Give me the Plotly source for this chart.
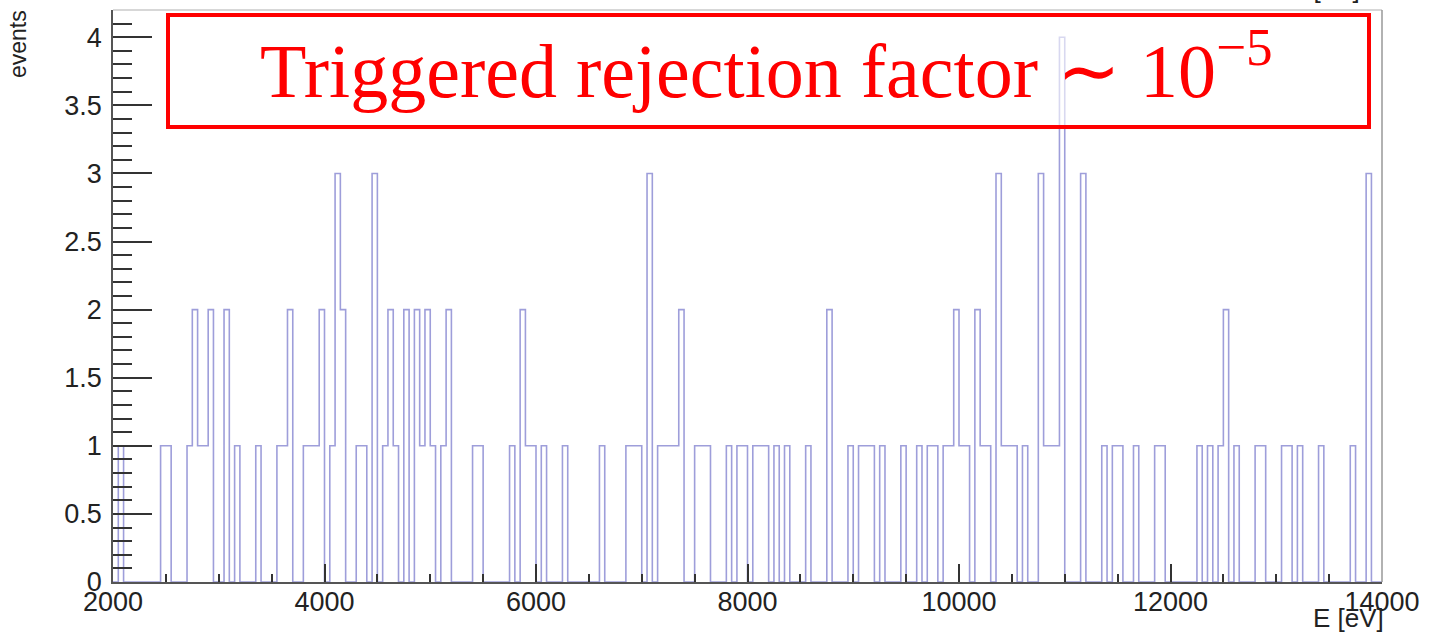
import plotly.graph_objects as go

# Histogram binning: 240 bins of 50 eV from 2000 eV to 14000 eV
E_MIN = 2000
E_MAX = 14000
BIN_WIDTH = 50

# Lower edge (eV) of every non-empty bin and the number of events in it
bin_start_eV = [
    2050, 2450, 2500, 2700, 2750, 2800, 2850, 2900, 3050, 3150,
    3350, 3550, 3600, 3650, 3800, 3850, 3900, 3950, 4050, 4100,
    4150, 4300, 4350, 4450, 4550, 4600, 4650, 4750, 4850, 4900,
    4950, 5000, 5100, 5150, 5400, 5450, 5750, 5850, 5900, 5950,
    6050, 6250, 6600, 6850, 6900, 6950, 7050, 7150, 7200, 7250,
    7300, 7350, 7500, 7550, 7600, 7800, 7900, 7950, 8050, 8100,
    8150, 8250, 8350, 8550, 8750, 8950, 9050, 9100, 9150, 9250,
    9450, 9600, 9700, 9750, 9850, 9900, 9950, 10000, 10050, 10150,
    10200, 10250, 10350, 10400, 10450, 10500, 10600, 10750, 10800, 10850,
    10900, 10950, 11150, 11350, 11450, 11500, 11650, 11850, 11900, 12250,
    12350, 12450, 12500, 12600, 12800, 12850, 13050, 13100, 13200, 13400,
    13700, 13850,
]
events = [
    1, 1, 1, 1, 2, 1, 1, 2, 2, 1,
    1, 1, 1, 2, 1, 1, 1, 2, 1, 3,
    2, 1, 1, 3, 1, 2, 1, 2, 2, 1,
    2, 1, 1, 2, 1, 1, 1, 2, 1, 1,
    1, 1, 1, 1, 1, 1, 3, 1, 1, 1,
    1, 2, 1, 1, 1, 1, 1, 1, 1, 1,
    1, 1, 1, 1, 2, 1, 1, 1, 1, 1,
    1, 1, 1, 1, 1, 1, 2, 1, 1, 2,
    1, 1, 3, 1, 1, 1, 1, 3, 1, 1,
    1, 4, 3, 1, 1, 1, 1, 1, 1, 1,
    1, 1, 2, 1, 1, 1, 1, 1, 1, 1,
    1, 3,
]

x_tick_values = [2000, 4000, 6000, 8000, 10000, 12000, 14000]

# Fill the full bin array and build the ROOT-style outline of the histogram
n_bins = (E_MAX - E_MIN) // BIN_WIDTH
content = [0] * n_bins
for e, c in zip(bin_start_eV, events):
    content[(e - E_MIN) // BIN_WIDTH] = c

xs, ys = [E_MIN], [0]
for i, c in enumerate(content):
    lo = E_MIN + i * BIN_WIDTH
    xs += [lo, lo + BIN_WIDTH]
    ys += [c, c]
xs.append(E_MAX)
ys.append(0)

fig = go.Figure()
fig.add_trace(go.Scatter(
    x=xs, y=ys, mode="lines",
    line=dict(color="rgb(158,158,218)", width=1.6),
    hoverinfo="skip",
))

W, H = 1429, 632
L, R, T, B = 113, 47, 10, 50
pw, ph = W - L - R, H - T - B


def px(xp):
    return (xp - L) / pw


def py(yp):
    return (H - B - yp) / ph


label_font = dict(family="Liberation Sans, Arial, sans-serif", size=27, color="#222")
tick_col = "#333"

fig.update_layout(
    width=W, height=H,
    margin=dict(l=L, r=R, t=T, b=B),
    paper_bgcolor="white", plot_bgcolor="white",
    showlegend=False,
    xaxis=dict(
        range=[E_MIN, E_MAX],
        tickmode="array", tickvals=x_tick_values,
        ticktext=[str(v) for v in x_tick_values],
        ticks="inside", ticklen=18, tickwidth=1.5, tickcolor=tick_col,
        minor=dict(tickmode="linear", tick0=E_MIN, dtick=500, ticks="inside",
                   ticklen=8, tickwidth=1.5, tickcolor=tick_col, showgrid=False),
        showgrid=False, zeroline=False,
        showline=True, linecolor="#555", linewidth=1.5,
        tickfont=label_font, ticklabelstandoff=-5,
    ),
    yaxis=dict(
        range=[0, 4.2],
        tick0=0, dtick=0.5,
        ticks="inside", ticklen=39, tickwidth=1.5, tickcolor=tick_col,
        minor=dict(tick0=0, dtick=0.1, ticks="inside", ticklen=19,
                   tickwidth=1.5, tickcolor=tick_col, showgrid=False),
        showgrid=False, zeroline=False,
        showline=True, linecolor="#555", linewidth=1.5,
        tickfont=label_font, ticklabelstandoff=4,
    ),
)

# Upper and right frame edges
fig.add_shape(type="line", xref="paper", yref="paper", x0=0, x1=1, y0=1, y1=1,
              line=dict(color="#b0b0b0", width=1.2))
fig.add_shape(type="line", xref="paper", yref="paper", x0=1, x1=1, y0=0, y1=1,
              line=dict(color="#999", width=1.5))

# Red framed caption box
fig.add_shape(type="rect", xref="paper", yref="paper",
              x0=px(168), x1=px(1369), y0=py(127), y1=py(15),
              line=dict(color="#ff0000", width=4),
              fillcolor="rgba(255,255,255,0.6)", layer="above")
fig.add_annotation(
    xref="paper", yref="paper", x=px(766), y=py(65),
    xanchor="center", yanchor="middle", showarrow=False,
    text="Triggered rejection factor \u223c 10<sup>\u22125</sup>",
    font=dict(family="Liberation Serif, Times New Roman, serif", size=76, color="#ff0000"),
)

# Axis titles
fig.add_annotation(
    xref="paper", yref="paper", x=px(18), y=py(8),
    xanchor="center", yanchor="top", showarrow=False, textangle=-90,
    text="events", font=dict(family="Liberation Sans, Arial, sans-serif", size=23, color="#222"),
)
fig.add_annotation(
    xref="paper", yref="paper", x=px(1386), y=py(601),
    xanchor="right", yanchor="top", showarrow=False,
    text="E [eV]", font=dict(family="Liberation Sans, Arial, sans-serif", size=26, color="#222"),
)
fig.add_annotation(
    xref="paper", yref="paper", x=px(1362), y=py(6),
    xanchor="right", yanchor="bottom", showarrow=False,
    text="E [eV]", font=dict(family="Liberation Sans, Arial, sans-serif", size=26, color="#222"),
)

fig.write_html("out.html")
